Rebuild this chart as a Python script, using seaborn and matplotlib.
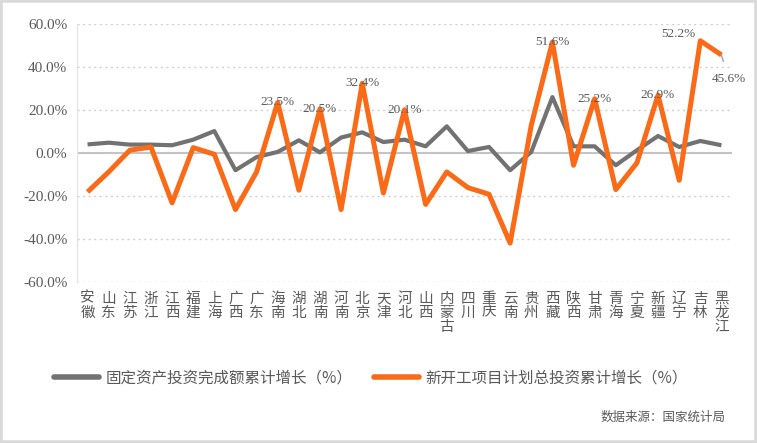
import matplotlib
matplotlib.use("Agg")
import matplotlib.pyplot as plt
import seaborn as sns
import pandas as pd
from matplotlib.lines import Line2D
from matplotlib.patches import Rectangle

provinces = ["安徽", "山东", "江苏", "浙江", "江西", "福建", "上海", "广西", "广东", "海南",
             "湖北", "湖南", "河南", "北京", "天津", "河北", "山西", "内蒙古", "四川", "重庆",
             "云南", "贵州", "西藏", "陕西", "甘肃", "青海", "宁夏", "新疆", "辽宁", "吉林", "黑龙江"]
fixed_asset = [4.0, 4.8, 3.9, 3.9, 3.6, 6.2, 10.2, -8.0, -1.9, 0.5,
               5.9, 0.3, 7.2, 9.6, 5.1, 6.2, 3.1, 12.4, 0.9, 2.8,
               -8.0, 0.5, 26.0, 3.1, 3.1, -5.7, 1.3, 7.9, 2.8, 5.6, 3.6]
new_projects = [-18.1, -8.8, 1.3, 2.8, -23.2, 2.5, -0.6, -26.3, -8.8, 23.5,
                -17.3, 20.5, -26.3, 32.4, -18.6, 20.1, -23.9, -8.8, -16.1, -19.2,
                -41.9, 12.9, 51.6, -5.7, 25.2, -17.0, -4.6, 26.9, -12.7, 52.2, 45.6]
series_names = ["固定资产投资完成额累计增长（%）", "新开工项目计划总投资累计增长（%）"]
labeled = ["海南", "湖南", "北京", "河北", "西藏", "甘肃", "新疆", "吉林", "黑龙江"]
yticks = [-60, -40, -20, 0, 20, 40, 60]

GRAY = "#727272"
ORANGE = "#FA6A17"
TXT = "#595959"
CJK = ["Noto Sans CJK SC", "DejaVu Sans"]
SERIF = ["Liberation Serif", "DejaVu Serif"]

sns.set_style("white")
plt.rcParams["font.family"] = CJK

df = pd.DataFrame({
    "pos": list(range(len(provinces))) * 2,
    "value": fixed_asset + new_projects,
    "series": [series_names[0]] * len(provinces) + [series_names[1]] * len(provinces),
})

fig = plt.figure(figsize=(7.57, 4.43), dpi=100)
ax = fig.add_axes([77 / 757, 1 - 282 / 443, (732 - 77) / 757, (282 - 24) / 443])

sns.lineplot(data=df, x="pos", y="value", hue="series", palette=[GRAY, ORANGE],
             linewidth=0, legend=False, ax=ax)
lines = ax.get_lines()
lines[0].set_linewidth(3.0)
lines[1].set_linewidth(3.6)
for ln in lines[:2]:
    ln.set_solid_joinstyle("round")
    ln.set_solid_capstyle("butt")
lines[0].set_zorder(3)
lines[1].set_zorder(4)

ax.set_xlim(-0.5, len(provinces) - 0.5)
ax.set_ylim(-60, 60)
ax.set_yticks(yticks)
ax.set_yticklabels([f"{v:.1f}%" for v in yticks], family=SERIF, fontsize=11, color=TXT)
ax.set_xticks(range(len(provinces)))
ax.set_xticklabels(["\n".join(p) for p in provinces], fontsize=10.5, color=TXT,
                   va="top", linespacing=1.0)
ax.tick_params(axis="both", length=0)
ax.tick_params(axis="y", pad=7)
ax.tick_params(axis="x", pad=7)
ax.set_xlabel("")
ax.set_ylabel("")

for v in yticks:
    if v != 0:
        ax.axhline(v, color="#d0d0d0", lw=1.0, ls=(0, (1.5, 2.5)), zorder=1)
ax.axhline(0, color="#c4c4c4", lw=1.5, zorder=2)
for s in ["top", "right", "bottom"]:
    ax.spines[s].set_visible(False)
ax.spines["left"].set_color("#e6e6e6")
ax.spines["left"].set_linewidth(1.0)

for name in labeled:
    i = provinces.index(name)
    v = new_projects[i]
    txt = f"{v:.1f}%"
    if name == "吉林":
        ax.annotate(txt, (i, v), xytext=(-16, 5), textcoords="offset points",
                    ha="center", va="center", fontsize=9.5, color=TXT, family=SERIF, zorder=6)
    elif name == "黑龙江":
        ax.annotate(txt, (i, v), xytext=(5, -17), textcoords="offset points",
                    ha="center", va="center", fontsize=9.5, color=TXT, family=SERIF, zorder=6,
                    arrowprops=dict(arrowstyle="-", color="#a0a0a0", lw=1.0,
                                    shrinkA=6, shrinkB=0))
    else:
        ax.annotate(txt, (i, v), xytext=(0, 0), textcoords="offset points",
                    ha="center", va="center", fontsize=9.5, color=TXT, family=SERIF, zorder=6)

handles = [Line2D([0], [0], color=GRAY, lw=4, solid_capstyle="round"),
           Line2D([0], [0], color=ORANGE, lw=4, solid_capstyle="round")]
leg = fig.legend(handles, series_names, loc="center", bbox_to_anchor=(371 / 757, 1 - 378 / 443),
                 ncol=2, frameon=False, fontsize=11.2, handlelength=2.9, handletextpad=0.4,
                 columnspacing=1.4, labelcolor=TXT)

fig.text(726 / 757, 1 - 417 / 443, "数据来源：国家统计局", ha="right", va="center",
         fontsize=9, color=TXT)

fig.patches.append(Rectangle((0, 0), 1, 1, transform=fig.transFigure, fill=False,
                             edgecolor="#d9d9d9", lw=4, zorder=10))

fig.savefig("out.png", dpi=100, facecolor="white")
